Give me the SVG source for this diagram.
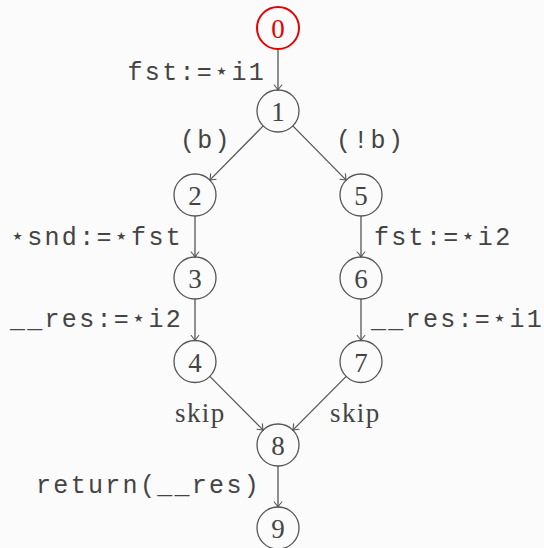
<svg xmlns="http://www.w3.org/2000/svg" width="544" height="548" viewBox="0 0 544 548">
<style>
.node circle{fill:none;stroke:#555;stroke-width:1.3}
.node text{font-family:"Liberation Serif","DejaVu Serif",serif;font-size:27px;fill:#444;text-anchor:middle}
#n0 circle{stroke:#e60000;stroke-width:2}
#n0 text{fill:#e60000}
.edge{stroke:#555;stroke-width:1.3;fill:none;marker-end:url(#arr)}
.tt{font-family:"Liberation Mono","DejaVu Sans Mono",monospace;font-size:25px;letter-spacing:2.3px;fill:#444}
.rm{font-family:"Liberation Serif","DejaVu Serif",serif;font-size:27px;letter-spacing:1.4px;fill:#444}
</style>
<defs>
<marker id="arr" markerUnits="userSpaceOnUse" markerWidth="12" markerHeight="12" viewBox="-6 -6 12 12" refX="0" refY="0" orient="auto">
<path d="M-5,-3.8 Q-1.5,-0.8 0,0 Q-1.5,0.8 -5,3.8" fill="none" stroke="#555" stroke-width="1.1" stroke-linecap="round"/>
</marker>
</defs>
<rect x="0" y="0" width="544" height="548" fill="#fbfbfb"/>
<g id="connectors">
<line class="edge" x1="278" y1="49" x2="278" y2="90"/>
<line class="edge" x1="263.2" y1="125.9" x2="209.8" y2="180.1"/>
<line class="edge" x1="292.8" y1="125.9" x2="346.2" y2="180.1"/>
<line class="edge" x1="195" y1="216" x2="195" y2="257"/>
<line class="edge" x1="195" y1="299" x2="195" y2="340.5"/>
<line class="edge" x1="361" y1="216" x2="361" y2="257"/>
<line class="edge" x1="361" y1="299" x2="361" y2="340.5"/>
<line class="edge" x1="209.8" y1="376.4" x2="263.2" y2="430.1"/>
<line class="edge" x1="346.2" y1="376.4" x2="292.8" y2="430.1"/>
<line class="edge" x1="278" y1="466" x2="278" y2="507"/>
</g>
<g id="labels">
<text class="tt" x="266" y="80" text-anchor="end">fst:=⋆i1</text>
<text class="tt" x="180" y="148">(b)</text>
<text class="tt" x="336" y="148">(!b)</text>
<text class="tt" x="183" y="245" text-anchor="end">⋆snd:=⋆fst</text>
<text class="tt" x="374" y="245">fst:=⋆i2</text>
<text class="tt" x="183" y="327" text-anchor="end">__res:=⋆i2</text>
<text class="tt" x="371" y="327">__res:=⋆i1</text>
<text class="rm" x="175" y="422">skip</text>
<text class="rm" x="330" y="422">skip</text>
<text class="tt" x="261" y="493" text-anchor="end">return(__res)</text>
</g>
<g id="n0" class="node"><circle cx="278" cy="28" r="21"/><text x="278" y="38">0</text></g>
<g id="n1" class="node"><circle cx="278" cy="111" r="21"/><text x="278" y="121">1</text></g>
<g id="n2" class="node"><circle cx="195" cy="195" r="21"/><text x="195" y="205">2</text></g>
<g id="n3" class="node"><circle cx="195" cy="278" r="21"/><text x="195" y="288">3</text></g>
<g id="n4" class="node"><circle cx="195" cy="361.5" r="21"/><text x="195" y="371.5">4</text></g>
<g id="n5" class="node"><circle cx="361" cy="195" r="21"/><text x="361" y="205">5</text></g>
<g id="n6" class="node"><circle cx="361" cy="278" r="21"/><text x="361" y="288">6</text></g>
<g id="n7" class="node"><circle cx="361" cy="361.5" r="21"/><text x="361" y="371.5">7</text></g>
<g id="n8" class="node"><circle cx="278" cy="445" r="21"/><text x="278" y="455">8</text></g>
<g id="n9" class="node"><circle cx="278" cy="528" r="21"/><text x="278" y="538">9</text></g>
</svg>
